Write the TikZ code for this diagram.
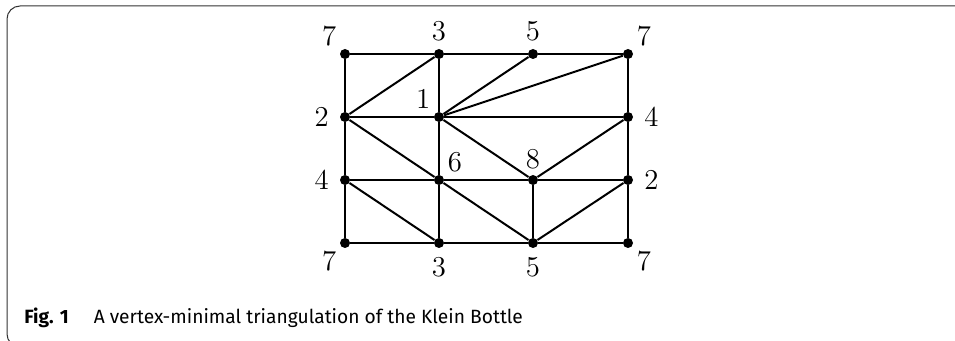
\documentclass[tikz,border=0pt]{standalone}
\usepackage{fontspec}
\newfontfamily\capfont{Fira Sans}
\usepackage{tikz}

\begin{document}
\begin{tikzpicture}[x=0.5pt,y=-0.5pt,
  vtx/.style={circle,fill=black,inner sep=0pt,minimum size=5pt},
  edge/.style={line width=1pt},
  lbl/.style={inner sep=0pt,font=\fontsize{13.5}{15}\selectfont},
  side/.style={lbl,label distance=5.3pt},
  diag/.style={lbl,label distance=3.3pt}]
 \useasboundingbox (0,0) rectangle (955,341);
 \clip (0,0) rectangle (955,341);
 % frame
 \draw[black!80,line width=0.5pt,rounded corners=6.5pt] (975,6) -- (7,6) -- (7,347) -- (975,347);
 % top row
 \node[vtx,label={[diag]135:$7$}] (tl) at (345,54) {};
 \node[vtx,label={[lbl,label distance=4pt]above:$3$}] (t3) at (439,54) {};
 \node[vtx,label={[lbl,label distance=4pt]above:$5$}] (t5) at (533,54) {};
 \node[vtx,label={[diag]45:$7$}] (tr) at (628,54) {};
 % second row
 \node[vtx,label={[side]left:$2$}] (l2) at (345,117) {};
 \node[vtx,label={[diag]135:$1$}] (c1) at (439,117) {};
 \node[vtx,label={[side]right:$4$}] (r4) at (628,117) {};
 % third row
 \node[vtx,label={[side]left:$4$}] (l4) at (345,180) {};
 \node[vtx,label={[diag]45:$6$}] (c6) at (439,180) {};
 \node[vtx,label={[lbl,label distance=3pt]above:$8$}] (c8) at (533,180) {};
 \node[vtx,label={[side]right:$2$}] (r2) at (628,180) {};
 % bottom row
 \node[vtx,label={[diag]225:$7$}] (bl) at (345,243) {};
 \node[vtx,label={[lbl,label distance=4.5pt]below:$3$}] (b3) at (439,243) {};
 \node[vtx,label={[lbl,label distance=4.5pt]below:$5$}] (b5) at (533,243) {};
 \node[vtx,label={[diag]-45:$7$}] (br) at (628,243) {};
 % edges
 \foreach \u/\v in {tl/t3,t3/t5,t5/tr,l2/c1,c1/r4,l4/c6,c6/c8,c8/r2,bl/b3,b3/b5,b5/br,
   tl/l2,l2/l4,l4/bl,t3/c1,c1/c6,c6/b3,c8/b5,tr/r4,r4/r2,r2/br,
   l2/t3,c1/t5,c1/tr,l2/c6,c1/c8,c8/r4,l4/b3,c6/b5,b5/r2}
   \draw[edge] (\u) -- (\v);
 % caption
 \node[anchor=base west,inner sep=0pt,font=\capfont\fontsize{9.6}{11}\selectfont] (cap) at (24,324)
   {\textbf{Fig. 1}\hspace{12.5pt}A vertex-minimal triangulation of the Klein Bottle};
\end{tikzpicture}
\end{document}
